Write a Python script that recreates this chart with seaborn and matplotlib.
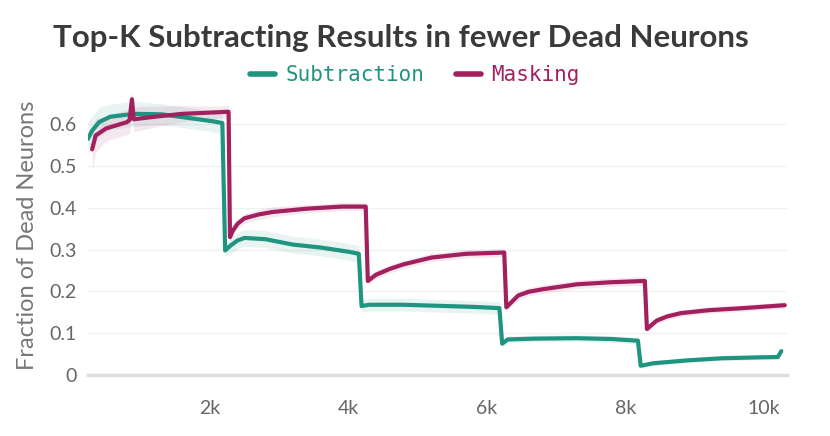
import numpy as np
import pandas as pd
import seaborn as sns
import matplotlib.pyplot as plt
from matplotlib.lines import Line2D

# Values (step, fraction of dead neurons, band half-width)
sub_steps = [240, 300, 400, 560, 900, 1300, 1700, 2050, 2180, 2220, 2300, 2400, 2500, 2800,
             3200, 3600, 4000, 4150, 4190, 4300, 4800, 5200, 5800, 6180, 6220, 6300, 6700,
             7300, 7800, 8180, 8220, 8400, 8900, 9400, 9900, 10200, 10250]
sub_vals = [0.565, 0.585, 0.605, 0.618, 0.625, 0.624, 0.615, 0.607, 0.603, 0.298, 0.31, 0.322,
            0.328, 0.325, 0.312, 0.305, 0.295, 0.29, 0.165, 0.168, 0.168, 0.166, 0.163, 0.160,
            0.075, 0.085, 0.087, 0.088, 0.086, 0.082, 0.022, 0.028, 0.035, 0.040, 0.042,
            0.043, 0.057]
sub_err = [0.04, 0.035, 0.035, 0.03, 0.03, 0.025, 0.025, 0.025, 0.025, 0.015, 0.02, 0.02,
           0.02, 0.02, 0.02, 0.02, 0.02, 0.02, 0.015, 0.015, 0.015, 0.015, 0.015, 0.015,
           0.008, 0.008, 0.008, 0.008, 0.008, 0.008, 0.006, 0.006, 0.006, 0.006, 0.006,
           0.006, 0.006]

mask_steps = [300, 350, 500, 800, 840, 875, 900, 1200, 1600, 2000, 2270, 2290, 2330, 2400,
              2500, 2700, 2900, 3400, 3900, 4250, 4280, 4400, 4600, 4800, 5200, 5700, 6250,
              6280, 6450, 6600, 6800, 7300, 7800, 8280, 8310, 8450, 8600, 8800, 9200, 9700,
              10300]
mask_vals = [0.54, 0.573, 0.59, 0.605, 0.61, 0.66, 0.612, 0.618, 0.625, 0.628, 0.630, 0.33,
             0.345, 0.362, 0.375, 0.384, 0.39, 0.398, 0.403, 0.403, 0.225, 0.24, 0.254, 0.265,
             0.281, 0.29, 0.293, 0.162, 0.19, 0.199, 0.205, 0.217, 0.222, 0.225, 0.11, 0.13,
             0.14, 0.148, 0.155, 0.16, 0.167]
mask_err = [0.05, 0.04, 0.03, 0.03, 0.03, 0.03, 0.03, 0.025, 0.02, 0.015, 0.015, 0.012,
            0.012, 0.012, 0.012, 0.012, 0.012, 0.01, 0.01, 0.01, 0.01, 0.01, 0.01, 0.01,
            0.01, 0.01, 0.01, 0.01, 0.01, 0.01, 0.01, 0.01, 0.01, 0.01, 0.008, 0.008,
            0.008, 0.008, 0.008, 0.008, 0.008]

teal = "#1f9480"
purple = "#a3205f"

df = pd.concat([
    pd.DataFrame({"step": sub_steps, "value": sub_vals, "err": sub_err, "run": "Subtraction"}),
    pd.DataFrame({"step": mask_steps, "value": mask_vals, "err": mask_err, "run": "Masking"}),
])

sns.set_style("white")
plt.rcParams["font.family"] = ["Lato", "DejaVu Sans"]

fig = plt.figure(figsize=(8.3, 4.36), dpi=100)
ax = fig.add_axes([0.106, 0.140, 0.842, 0.642])

# shaded bands
for name, color in [("Subtraction", teal), ("Masking", purple)]:
    d = df[df["run"] == name]
    ax.fill_between(d["step"], d["value"] - d["err"], d["value"] + d["err"],
                    color=color, alpha=0.1, linewidth=0)

sns.lineplot(data=df, x="step", y="value", hue="run", palette={"Subtraction": teal, "Masking": purple},
             sort=False, estimator=None, linewidth=3, legend=False, ax=ax)

ax.set_xlim(240, 10330)
ax.set_ylim(0, 0.67)
ax.set_yticks([0, 0.1, 0.2, 0.3, 0.4, 0.5, 0.6])
ax.set_yticklabels(["0", "0.1", "0.2", "0.3", "0.4", "0.5", "0.6"])
ax.set_xticks([2000, 4000, 6000, 8000, 10000])
ax.set_xticklabels(["2k", "4k", "6k", "8k", "10k"])
ax.grid(axis="y", color="#f0f0f0", linewidth=1)
ax.grid(axis="x", visible=False)
for s in ["top", "right", "left"]:
    ax.spines[s].set_visible(False)
ax.spines["bottom"].set_color("#dddddd")
ax.spines["bottom"].set_linewidth(2.5)
ax.tick_params(axis="x", direction="inout", length=12, width=1, color="#e0e0e0",
               labelsize=14, labelcolor="#666666", pad=12)
ax.tick_params(axis="y", length=0, labelsize=14, labelcolor="#666666", pad=8)
ax.set_xlabel("")
ax.set_ylabel("Fraction of Dead Neurons", fontsize=17, color="#777777", labelpad=8)

fig.text(0.483, 0.913, "Top-K Subtracting Results in fewer Dead Neurons", ha="center", va="center",
         fontsize=22.5, fontweight="bold", color="#3a3a3a")

handles = [Line2D([0], [0], color=teal, linewidth=4), Line2D([0], [0], color=purple, linewidth=4)]
leg = fig.legend(handles, ["Subtraction", "Masking"], loc="center", bbox_to_anchor=(0.5, 0.828),
                 ncol=2, frameon=False, handlelength=1.2, handletextpad=0.5, columnspacing=1.5,
                 prop={"family": "DejaVu Sans Mono", "size": 15})
leg.get_texts()[0].set_color(teal)
leg.get_texts()[1].set_color(purple)

fig.savefig("out.png", dpi=100)
